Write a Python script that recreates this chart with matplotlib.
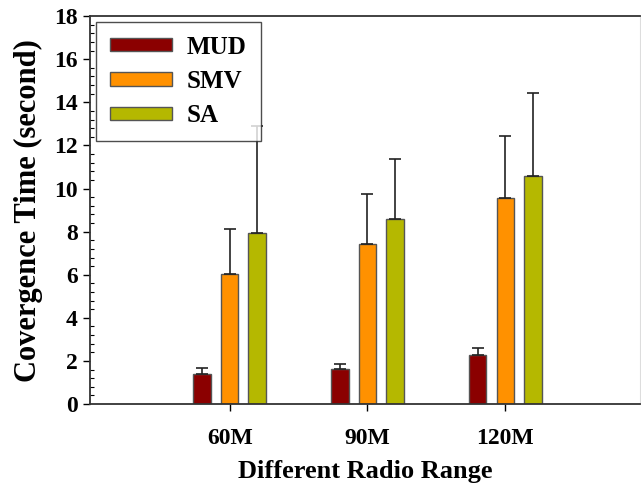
import numpy as np
import matplotlib
matplotlib.use("Agg")
import matplotlib.pyplot as plt
from matplotlib.ticker import MultipleLocator

# Data
ranges = ["60M", "90M", "120M"]
methods = ["MUD", "SMV", "SA"]
mud = [1.39, 1.64, 2.26]
smv = [6.04, 7.42, 9.57]
sa = [7.92, 8.58, 10.59]
mud_err = [0.29, 0.22, 0.32]
smv_err = [2.08, 2.33, 2.89]
sa_err = [4.98, 2.78, 3.83]

colors = ["#8b0000", "#ff9100", "#b5b800"]

plt.rcParams["font.family"] = ["Liberation Serif", "DejaVu Serif"]
plt.rcParams["font.weight"] = "bold"

fig = plt.figure(figsize=(6.41, 4.88), dpi=100)
ax = fig.add_axes([0.140, 0.172, 0.859, 0.795])

x = np.arange(1, len(ranges) + 1)
width = 0.127
offset = 0.2

series = [(mud, mud_err), (smv, smv_err), (sa, sa_err)]
for i, (vals, errs) in enumerate(series):
    pos = x + (i - 1) * offset
    ax.bar(pos, vals, width, color=colors[i], edgecolor="#555555",
           linewidth=1.0, label=methods[i], zorder=2)
    ax.errorbar(pos, vals, yerr=[np.zeros(len(errs)), errs], fmt="none",
                ecolor="#222222", elinewidth=1.2, capsize=4.5, capthick=1.2,
                zorder=3)

ax.set_xlim(-0.015, 3.98)
ax.set_ylim(0, 18)
ax.set_xticks(x)
ax.set_xticklabels(ranges, fontsize=17, fontweight="bold")
ax.yaxis.set_major_locator(MultipleLocator(2))
ax.yaxis.set_minor_locator(MultipleLocator(0.4))
ax.tick_params(axis="y", which="major", direction="out", length=5,
               labelsize=17, width=1)
ax.tick_params(axis="y", which="minor", direction="in", length=3,
               width=0.8)
ax.tick_params(axis="x", direction="out", length=5, pad=12, width=1)

for s in ["left", "bottom", "top"]:
    ax.spines[s].set_color("#333333")
    ax.spines[s].set_linewidth(1.3)
ax.spines["right"].set_color("#dddddd")

ax.set_xlabel("Different Radio Range", fontsize=19, fontweight="bold",
              labelpad=8)
ax.set_ylabel("Covergence Time (second)", fontsize=22, fontweight="bold",
              labelpad=8)

leg = ax.legend(loc="upper left", bbox_to_anchor=(0.011, 0.985),
                borderaxespad=0, fontsize=18, frameon=True, fancybox=False,
                edgecolor="#222222", handlelength=2.5, handleheight=0.45,
                borderpad=0.55, labelspacing=0.45, handletextpad=0.6)
leg.get_frame().set_linewidth(1.0)
for t in leg.get_texts():
    t.set_fontweight("bold")

fig.savefig("out.png", dpi=100)
